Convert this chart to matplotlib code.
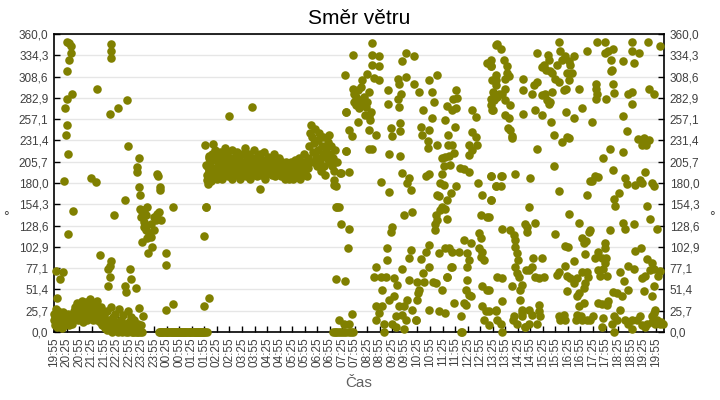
import matplotlib
matplotlib.use("Agg")
import matplotlib.pyplot as plt

plt.rcParams['font.family'] = ['Liberation Sans', 'DejaVu Sans']

# x in minutes after 19:55, y in degrees
evening_low = [
    (0, 15), (1, 22), (2, 8), (3, 18), (4, 28), (5, 12), (6, 20), (7, 6), (8, 15), (9, 25),
    (10, 10), (11, 18), (12, 14), (13, 22), (14, 8), (15, 16), (16, 12), (17, 20), (18, 5),
    (19, 14), (20, 18), (21, 10), (22, 24), (23, 16), (24, 12), (25, 20), (26, 8), (27, 15),
    (28, 10), (29, 18), (30, 12), (32, 16), (33, 22), (35, 14), (36, 8), (38, 20), (40, 12),
    (42, 18), (44, 10), (46, 15), (48, 25), (50, 30), (52, 20), (54, 35), (56, 28), (58, 15),
    (60, 22), (62, 32), (64, 18), (66, 38), (68, 25), (70, 12), (72, 30), (74, 20), (76, 36),
    (78, 28), (80, 15), (82, 32), (84, 22), (86, 40), (88, 18), (90, 28), (92, 35), (94, 14),
    (96, 25), (98, 32), (100, 20), (102, 38), (104, 15), (106, 28), (108, 22), (110, 12),
    (112, 30), (114, 18), (116, 8), (118, 25), (120, 20), (122, 5), (124, 12), (126, 2),
    (128, 25), (130, 8), (132, 15), (134, 3), (136, 30), (138, 10), (140, 0), (142, 18),
    (144, 5), (146, 22), (148, 2), (150, 12), (152, 0), (154, 8), (156, 28), (158, 3),
    (160, 15), (162, 0), (164, 6), (166, 20), (168, 2), (170, 10), (172, 0), (174, 5),
    (176, 25), (178, 0), (180, 12), (182, 3), (184, 18), (186, 0), (188, 8), (190, 0),
    (192, 15), (194, 0), (196, 5), (198, 0), (200, 10), (202, 0), (204, 2), (206, 0),
    (208, 8), (210, 0),
]

evening_scatter = [
    (30, 350), (36, 349), (41, 346), (40, 337), (37, 328), (32, 315), (44, 288), (30, 282),
    (26, 270), (32, 250), (29, 238), (34, 215), (24, 183), (46, 146), (33, 118), (137, 348),
    (137, 340), (137, 331), (134, 263), (103, 293), (154, 271), (175, 280), (177, 225),
    (203, 210), (199, 199), (199, 193), (204, 175), (205, 165), (169, 160), (143, 141),
    (88, 186), (100, 181), (247, 191), (248, 188), (253, 175), (253, 172), (284, 151),
    (362, 226), (380, 227), (372, 213), (364, 202), (370, 196), (366, 184), (368, 179),
    (363, 151), (360, 116), (267, 96), (269, 81), (111, 93), (137, 86), (133, 80), (130, 76),
    (135, 66), (130, 56), (182, 76), (185, 64), (169, 56), (173, 48), (197, 53), (22, 72),
    (15, 64), (4, 74), (8, 41), (371, 41), (358, 32), (285, 34), (268, 27), (204, 29),
    (213, 19),
    (207, 149), (215, 147), (223, 151), (208, 139), (215, 133), (239, 139), (251, 145),
    (255, 135), (231, 131), (219, 123), (227, 119), (239, 123), (211, 109), (223, 113),
    (235, 103), (225, 96), (247, 143), (243, 135), (215, 127), (231, 115), (208, 147),
    (219, 141),
]

night_zero_times = [
    252, 254, 257, 259, 262, 264, 267, 269, 272, 274, 277, 279, 282, 284, 287, 289, 292,
    294, 297, 299, 302, 304, 307, 309, 312, 314, 317, 319, 322, 324, 327, 329, 332, 334,
    337, 339, 342, 344, 347, 349, 352, 354, 357, 359, 362, 365,
]

night_plateau = [
    (365, 190), (367, 200), (368, 185), (370, 210), (372, 195), (374, 205), (375, 182),
    (377, 215), (379, 198), (381, 190), (383, 208), (385, 220), (387, 195), (389, 185),
    (391, 212), (393, 200), (395, 190), (397, 218), (399, 205), (401, 195), (403, 185),
    (405, 210), (407, 200), (409, 222), (411, 192), (413, 205), (415, 215), (417, 188),
    (419, 200), (421, 210), (423, 195), (425, 220), (427, 185), (429, 205), (431, 198),
    (433, 212), (435, 190), (437, 202), (439, 218), (441, 195), (443, 208), (445, 185),
    (447, 200), (449, 215), (451, 192), (453, 205), (455, 198), (457, 222), (459, 188),
    (461, 210), (463, 200), (465, 195), (467, 215), (469, 185), (471, 205), (473, 198),
    (475, 210), (477, 190), (479, 220), (481, 200), (483, 195), (485, 212), (487, 188),
    (489, 205), (491, 198), (493, 215), (495, 190), (497, 208), (499, 200), (501, 195),
    (503, 218), (505, 185), (507, 205), (509, 200), (511, 212), (513, 192), (515, 205),
    (517, 198), (519, 210), (521, 190), (523, 202), (525, 195), (527, 215), (529, 188),
    (531, 200), (533, 205), (535, 192), (537, 198), (539, 210), (541, 195), (543, 188),
    (545, 205), (547, 200), (549, 192), (551, 198), (553, 185), (555, 205), (557, 195),
    (559, 190), (561, 200), (563, 185), (565, 195), (567, 205), (569, 190), (571, 198),
    (573, 185), (575, 200), (577, 208), (579, 192), (581, 188), (583, 200), (585, 195),
    (587, 210), (589, 185), (591, 198), (593, 205), (595, 190), (597, 200), (599, 215),
    (601, 195), (603, 205), (605, 188), (607, 198), (609, 210), (611, 225), (613, 240),
    (615, 250), (617, 235), (619, 218), (621, 205), (623, 228), (625, 245), (627, 212),
    (629, 200), (631, 232), (633, 220), (635, 240), (637, 208), (639, 195), (641, 225),
    (643, 215), (645, 235), (647, 200), (649, 190), (651, 222), (653, 210), (655, 230),
    (657, 205), (659, 238), (661, 215), (663, 225), (665, 200), (667, 210), (669, 195),
    (673, 220), (677, 205),
    (475, 272), (420, 261), (363, 151), (494, 173), (671, 184), (675, 176), (678, 151),
    (699, 266), (699, 219), (685, 192),
]

morning = [
    (671, 178), (675, 151), (683, 151), (687, 131), (707, 125), (703, 101), (675, 64),
    (697, 62), (683, 14), (695, 10), (707, 10), (714, 22), (667, 0), (672, 0), (676, 0),
    (680, 0), (685, 0), (690, 0), (695, 0), (700, 0), (705, 0), (710, 0), (716, 0),
    (716, 335), (697, 310), (700, 266), (707, 244), (713, 237), (700, 219), (687, 192),
    (707, 193), (715, 294), (719, 288), (722, 284), (727, 292), (730, 280), (734, 296),
    (738, 304), (742, 284), (746, 272), (750, 278), (754, 290), (758, 266), (722, 274),
    (730, 270), (738, 276), (719, 278), (745, 262), (753, 261), (756, 256), (727, 254),
    (761, 349), (762, 335), (778, 333), (762, 323), (777, 321), (748, 312), (766, 307),
    (778, 304), (753, 244), (770, 238), (753, 221), (762, 221),
]

forenoon = [
    (782, 181), (802, 169), (802, 215), (828, 213), (800, 292), (800, 275), (824, 306),
    (826, 300), (830, 288), (824, 282), (826, 272), (842, 308), (832, 327), (842, 337),
    (862, 333), (806, 247), (810, 237), (828, 253), (828, 243), (834, 192), (850, 186),
    (846, 180), (854, 172), (862, 300), (874, 290), (882, 268), (878, 248), (880, 238),
    (894, 231), (898, 244), (904, 258), (898, 304), (917, 310), (905, 290), (909, 278),
    (896, 222), (917, 226), (858, 145), (838, 141), (806, 121), (810, 127), (796, 101),
    (798, 87), (770, 79), (766, 67), (782, 67), (794, 67), (786, 51), (770, 31), (786, 31),
    (778, 23), (790, 10), (770, 14), (814, 65), (822, 57), (832, 76), (850, 89), (854, 99),
    (878, 88), (850, 63), (870, 61), (886, 61), (874, 51), (870, 39), (846, 39), (838, 31),
    (826, 31), (814, 43), (802, 39), (818, 19), (834, 21), (842, 14), (866, 14), (858, 27),
    (810, 10), (818, 6), (790, 0), (838, 4),
]

late_morning = [
    (941, 273), (955, 281), (965, 283), (961, 292), (952, 268), (961, 270), (937, 256),
    (944, 238), (960, 248), (953, 226), (944, 226), (929, 210), (937, 212), (945, 213),
    (957, 216), (933, 200), (947, 202), (971, 198), (981, 197), (993, 193), (961, 176),
    (949, 168), (941, 159), (929, 151), (925, 147), (937, 149), (921, 164), (917, 166),
    (890, 188), (898, 191), (928, 191), (925, 180), (933, 178), (914, 141), (912, 131),
    (912, 123), (917, 135), (941, 136), (937, 101), (921, 95), (898, 105), (890, 97),
    (898, 79), (882, 71), (906, 61), (914, 59), (929, 51), (941, 67), (952, 79), (957, 35),
    (981, 35), (973, 19), (898, 27), (921, 25), (937, 23), (872, 47), (867, 14), (973, 0),
    (977, 0),
]

noon = [
    (1001, 268), (1009, 260), (1001, 242), (1009, 236), (993, 226), (1001, 220), (993, 214),
    (1013, 226), (1057, 347), (1037, 325), (1045, 321), (1049, 304), (1057, 298), (1053, 288),
    (1049, 280), (1049, 268), (1057, 311), (1061, 284), (1047, 188), (1057, 176), (1045, 160),
    (1025, 166), (1015, 180), (1021, 141), (1037, 139), (1017, 119), (1021, 113), (981, 111),
    (997, 108), (989, 95), (969, 97), (993, 87), (1017, 101), (1025, 97), (1029, 87),
    (1021, 91), (989, 79), (989, 63), (985, 51), (993, 45), (997, 43), (1037, 51), (1025, 55),
    (985, 33), (1025, 31), (1033, 25), (1057, 25), (1029, 14), (1041, 8), (953, 97),
    (945, 101), (949, 78), (941, 66),
]

early_afternoon = [
    (1061, 348), (1071, 342), (1077, 329), (1045, 329), (1047, 321), (1084, 321), (1084, 313),
    (1088, 309), (1057, 305), (1080, 306), (1050, 290), (1079, 293), (1073, 288), (1065, 288),
    (1045, 282), (1053, 280), (1045, 274), (1050, 268), (1080, 280), (1092, 274), (1080, 262),
    (1088, 258), (1087, 246), (1092, 244), (1096, 237), (1096, 234), (1045, 188), (1069, 188),
    (1073, 188), (1057, 176), (1069, 176), (1103, 191), (1045, 160), (1041, 139), (1041, 51),
    (1073, 124), (1092, 123), (1100, 117), (1104, 111), (1104, 103), (1108, 95), (1111, 87),
    (1104, 78), (1108, 71), (1112, 67), (1061, 66), (1073, 65), (1095, 56), (1120, 57),
    (1116, 51), (1073, 37), (1041, 25), (1057, 27), (1061, 14), (1069, 10), (1100, 19),
    (1098, 15), (1073, 0), (1116, 39), (1120, 27), (1128, 6), (1119, 23),
]

afternoon = [
    (1156, 337), (1182, 335), (1184, 329), (1172, 323), (1168, 320), (1178, 317), (1186, 315),
    (1192, 313), (1200, 306), (1208, 302), (1204, 323), (1212, 339), (1208, 350), (1217, 329),
    (1224, 333), (1232, 327), (1236, 323), (1240, 313), (1232, 304), (1244, 333), (1228, 313),
    (1220, 292), (1225, 293), (1176, 288), (1168, 286), (1180, 280), (1188, 278), (1192, 290),
    (1184, 276), (1148, 298), (1156, 302), (1143, 288), (1152, 268), (1168, 262), (1190, 254),
    (1122, 306), (1122, 292), (1122, 263), (1225, 266), (1244, 258), (1264, 270), (1256, 294),
    (1275, 339), (1197, 238), (1216, 230), (1232, 234), (1228, 236), (1156, 221), (1196, 201),
    (1208, 170), (1140, 186), (1136, 151), (1128, 131), (1132, 127), (1132, 121), (1151, 132),
    (1146, 90), (1168, 90), (1144, 78), (1152, 67), (1172, 67), (1160, 65), (1136, 75),
    (1130, 75), (1200, 118), (1233, 142), (1256, 132), (1224, 104), (1230, 103), (1244, 86),
    (1222, 80), (1208, 73), (1204, 69), (1228, 68), (1236, 65), (1244, 59), (1252, 65),
    (1264, 73), (1275, 73), (1279, 67), (1271, 59), (1268, 53), (1257, 47), (1252, 43),
    (1228, 49), (1256, 31), (1252, 21), (1262, 19), (1249, 14), (1264, 14), (1275, 14),
    (1220, 21), (1208, 19), (1212, 14), (1160, 33), (1160, 25), (1164, 19), (1144, 21),
    (1136, 10), (1156, 10), (1128, 6), (1108, 10), (1120, 19), (1138, 27), (1224, 14),
]

evening_end = [
    (1299, 350), (1319, 350), (1337, 342), (1326, 339), (1319, 337), (1334, 329), (1335, 317),
    (1337, 300), (1334, 315), (1341, 289), (1363, 327), (1389, 325), (1384, 350), (1400, 337),
    (1383, 340), (1421, 350), (1450, 346), (1375, 288), (1384, 290), (1383, 276), (1424, 293),
    (1435, 288), (1297, 300), (1297, 294), (1299, 288), (1297, 282), (1321, 282), (1361, 261),
    (1371, 243), (1287, 254), (1397, 233), (1408, 226), (1413, 234), (1423, 232), (1416, 226),
    (1331, 221), (1361, 218), (1315, 210), (1339, 196), (1295, 188), (1303, 187), (1283, 182),
    (1287, 182), (1275, 166), (1367, 186), (1371, 179), (1391, 178), (1403, 184), (1415, 193),
    (1408, 180), (1432, 180), (1435, 176), (1341, 161), (1343, 152), (1353, 168), (1419, 152),
    (1427, 137), (1363, 132), (1367, 124), (1389, 130), (1443, 125), (1283, 123), (1281, 121),
    (1264, 113), (1268, 107), (1274, 110), (1331, 123), (1318, 108), (1319, 101), (1303, 97),
    (1271, 94), (1295, 89), (1311, 89), (1321, 89), (1319, 83), (1315, 76), (1303, 75),
    (1307, 68), (1323, 68), (1355, 72), (1373, 80), (1387, 76), (1391, 98), (1405, 101),
    (1419, 88), (1431, 83), (1437, 76), (1450, 74), (1445, 68), (1427, 75), (1415, 68),
    (1408, 65), (1365, 62), (1373, 51), (1435, 55), (1431, 43), (1411, 49), (1359, 43),
    (1355, 27), (1337, 48), (1347, 47), (1326, 37), (1302, 35), (1311, 34), (1323, 33),
    (1268, 35), (1283, 14), (1291, 19), (1315, 17), (1335, 10), (1347, 14), (1341, 19),
    (1367, 14), (1375, 10), (1383, 14), (1395, 14), (1403, 19), (1419, 10), (1431, 19),
    (1435, 23), (1439, 27), (1443, 14), (1450, 10), (1454, 12), (1458, 10), (1439, 10),
    (1431, 12), (1341, 0), (1384, 4), (1408, 8), (1415, 6), (1311, 6),
]

y_ticks = [0.0, 25.714, 51.429, 77.143, 102.857, 128.571, 154.286, 180.0,
           205.714, 231.429, 257.143, 282.857, 308.571, 334.286, 360.0]
y_labels = ['0,0', '25,7', '51,4', '77,1', '102,9', '128,6', '154,3', '180,0',
            '205,7', '231,4', '257,1', '282,9', '308,6', '334,3', '360,0']
x_ticks = list(range(0, 1441, 30))
x_labels = ['%02d:%02d' % (((19 * 60 + 55 + m) // 60) % 24, (19 * 60 + 55 + m) % 60) for m in x_ticks]

olive = '#808000'
grey = '#404040'

fig = plt.figure(figsize=(7.2, 4.0), dpi=100)
ax = fig.add_axes([54 / 720, 68 / 400, 610 / 720, 298 / 400])

all_pts = (evening_low + evening_scatter + [(t, 0) for t in night_zero_times] + night_plateau
           + morning + forenoon + late_morning + noon + early_afternoon + afternoon + evening_end)
xs = [p[0] for p in all_pts]
ys = [p[1] for p in all_pts]

ax.text(141, 15, 'max', fontsize=8, color='#222222', ha='center', va='center', zorder=1)
ax.scatter(xs, ys, s=38, color=olive, linewidths=0, zorder=3, clip_on=False)

ax.set_xlim(0, 1460)
ax.set_ylim(0, 360)
ax.set_yticks(y_ticks)
ax.set_yticklabels(y_labels)
ax.set_xticks(x_ticks)
ax.set_xticklabels(x_labels, rotation=90)
ax.grid(axis='y', color='#e6e6e6', linewidth=1)
ax.set_axisbelow(True)
ax.tick_params(axis='both', direction='in', length=4, width=1, colors='black',
               labelcolor=grey, labelsize=8.5)
ax.tick_params(axis='y', right=True, labelright=True, pad=4)
ax.tick_params(axis='x', pad=4)
for s in ax.spines.values():
    s.set_linewidth(1.2)

fig.text(359 / 720, 382 / 400, 'Směr větru', ha='center', va='center', fontsize=15, color='black')
fig.text(359 / 720, 17 / 400, 'Čas', ha='center', va='center', fontsize=11, color='#606060')
fig.text(6 / 720, 183 / 400, '°', ha='center', va='center', fontsize=10, color=grey)
fig.text(712 / 720, 183 / 400, '°', ha='center', va='center', fontsize=10, color=grey)

fig.savefig('out.png', dpi=100)
